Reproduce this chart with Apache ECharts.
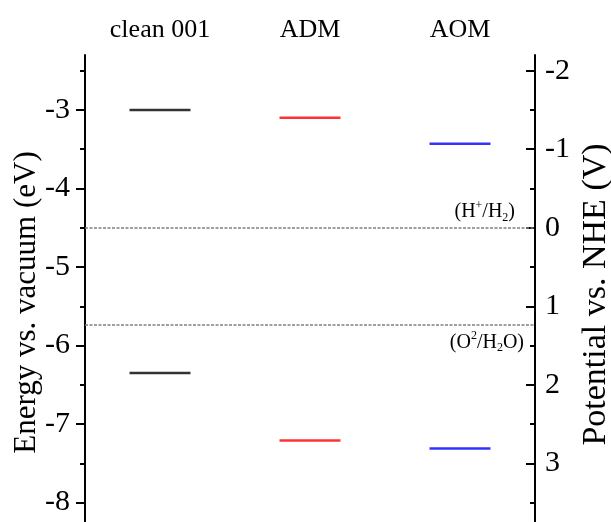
<!DOCTYPE html>
<html>
<head>
<meta charset="utf-8">
<script src="https://cdn.jsdelivr.net/npm/echarts@6/dist/echarts.min.js"></script>
<style>html,body{margin:0;padding:0;background:#fff}#c{width:611px;height:522px}</style>
</head>
<body>
<div id="c"></div>
<script>
const categories = ['clean 001', 'ADM', 'AOM'];
const upperLevels = [-3.00, -3.10, -3.43];
const lowerLevels = [-6.35, -7.21, -7.31];
const refPotentials = [0, 1.23];
const vacuumOffset = -4.5;
const leftMajorTicks = [-8, -7, -6, -5, -4, -3];
const leftMinorTicks = [-7.5, -6.5, -5.5, -4.5, -3.5, -2.5];
const rightMajorTicks = [-2, -1, 0, 1, 2, 3];
const rightMinorTicks = [-1.5, -0.5, 0.5, 1.5, 2.5, 3.5];

const FONT = 'Liberation Serif';
const colors = ['#000000', '#ff0000', '#0000ff'];
const eMin = -8.4, eMax = -2.3;

const chart = echarts.init(document.getElementById('c'), null, {renderer: 'canvas'});

const levelSeries = categories.map((c, i) => ({
  type: 'scatter',
  yAxisIndex: 0,
  symbol: 'rect',
  symbolSize: [61, 2.5],
  itemStyle: {color: colors[i]},
  data: [[c, upperLevels[i]], [c, lowerLevels[i]]],
  silent: true,
  z: 5
}));

const refLabelRich = {
  n: {fontFamily: FONT, fontSize: 20, color: '#000', lineHeight: 24, verticalAlign: 'middle'},
  sup: {fontFamily: FONT, fontSize: 12, color: '#000', lineHeight: 24, verticalAlign: 'top'},
  sub: {fontFamily: FONT, fontSize: 12, color: '#000', lineHeight: 24, verticalAlign: 'bottom'}
};
const refLabelTexts = ['{n|(H}{sup|+}{n|/H}{sub|2}{n|)}', '{n|(O}{sup|2}{n|/H}{sub|2}{n|O)}'];
const refLabelPos = ['insideEndTop', 'insideEndBottom'];
const refLabelDist = [[20, 4], [11, 6]];

levelSeries.push({
  type: 'scatter',
  yAxisIndex: 0,
  data: [],
  markLine: {
    silent: true,
    symbol: ['none', 'none'],
    lineStyle: {color: '#808080', type: [3, 1.5], width: 1.5},
    data: refPotentials.map((p, i) => ({
      yAxis: vacuumOffset - p,
      label: {
        show: true,
        position: refLabelPos[i],
        formatter: refLabelTexts[i],
        rich: refLabelRich,
        distance: refLabelDist[i]
      }
    }))
  }
});

const baseLabel = {fontFamily: FONT, fontSize: 30, color: '#000'};

chart.setOption({
  animation: false,
  backgroundColor: '#fff',
  grid: {left: 85, right: 76, top: 55, bottom: -12, containLabel: false, outerBoundsMode: 'none'},
  xAxis: {
    type: 'category',
    position: 'top',
    data: categories,
    axisLine: {show: false},
    axisTick: {show: false},
    splitLine: {show: false},
    axisLabel: {fontFamily: FONT, fontSize: 26, color: '#000', margin: 12}
  },
  yAxis: [
    {
      type: 'value', position: 'left', min: eMin, max: eMax,
      axisLine: {show: true, lineStyle: {color: '#000', width: 2}},
      axisTick: {show: true, customValues: leftMajorTicks, length: 9, lineStyle: {color: '#000', width: 2}},
      axisLabel: Object.assign({customValues: leftMajorTicks, margin: 15}, baseLabel),
      splitLine: {show: false},
      name: 'Energy vs. vacuum (eV)',
      nameLocation: 'middle',
      nameRotate: 90,
      nameGap: 43,
      nameMoveOverlap: false,
      nameTextStyle: {fontFamily: FONT, fontSize: 31, color: '#000', padding: [0, 16, 0, 0]}
    },
    {
      type: 'value', position: 'left', min: eMin, max: eMax,
      axisLine: {show: false},
      axisTick: {show: true, customValues: leftMinorTicks, length: 5, lineStyle: {color: '#000', width: 2}},
      axisLabel: {show: false},
      splitLine: {show: false}
    },
    {
      type: 'value', position: 'right', inverse: true,
      min: vacuumOffset - eMax, max: vacuumOffset - eMin,
      axisLine: {show: true, lineStyle: {color: '#000', width: 2}},
      axisTick: {show: true, inside: true, customValues: rightMajorTicks, length: 9, lineStyle: {color: '#000', width: 2}},
      axisLabel: Object.assign({customValues: rightMajorTicks, margin: 10}, baseLabel),
      splitLine: {show: false},
      name: 'Potential vs. NHE (V)',
      nameLocation: 'middle',
      nameRotate: 90,
      nameGap: 44,
      nameMoveOverlap: false,
      nameTextStyle: {fontFamily: FONT, fontSize: 34, color: '#000'}
    },
    {
      type: 'value', position: 'right', inverse: true,
      min: vacuumOffset - eMax, max: vacuumOffset - eMin,
      axisLine: {show: false},
      axisTick: {show: true, inside: true, customValues: rightMinorTicks, length: 5, lineStyle: {color: '#000', width: 2}},
      axisLabel: {show: false},
      splitLine: {show: false}
    }
  ],
  series: levelSeries
});
</script>
</body>
</html>
